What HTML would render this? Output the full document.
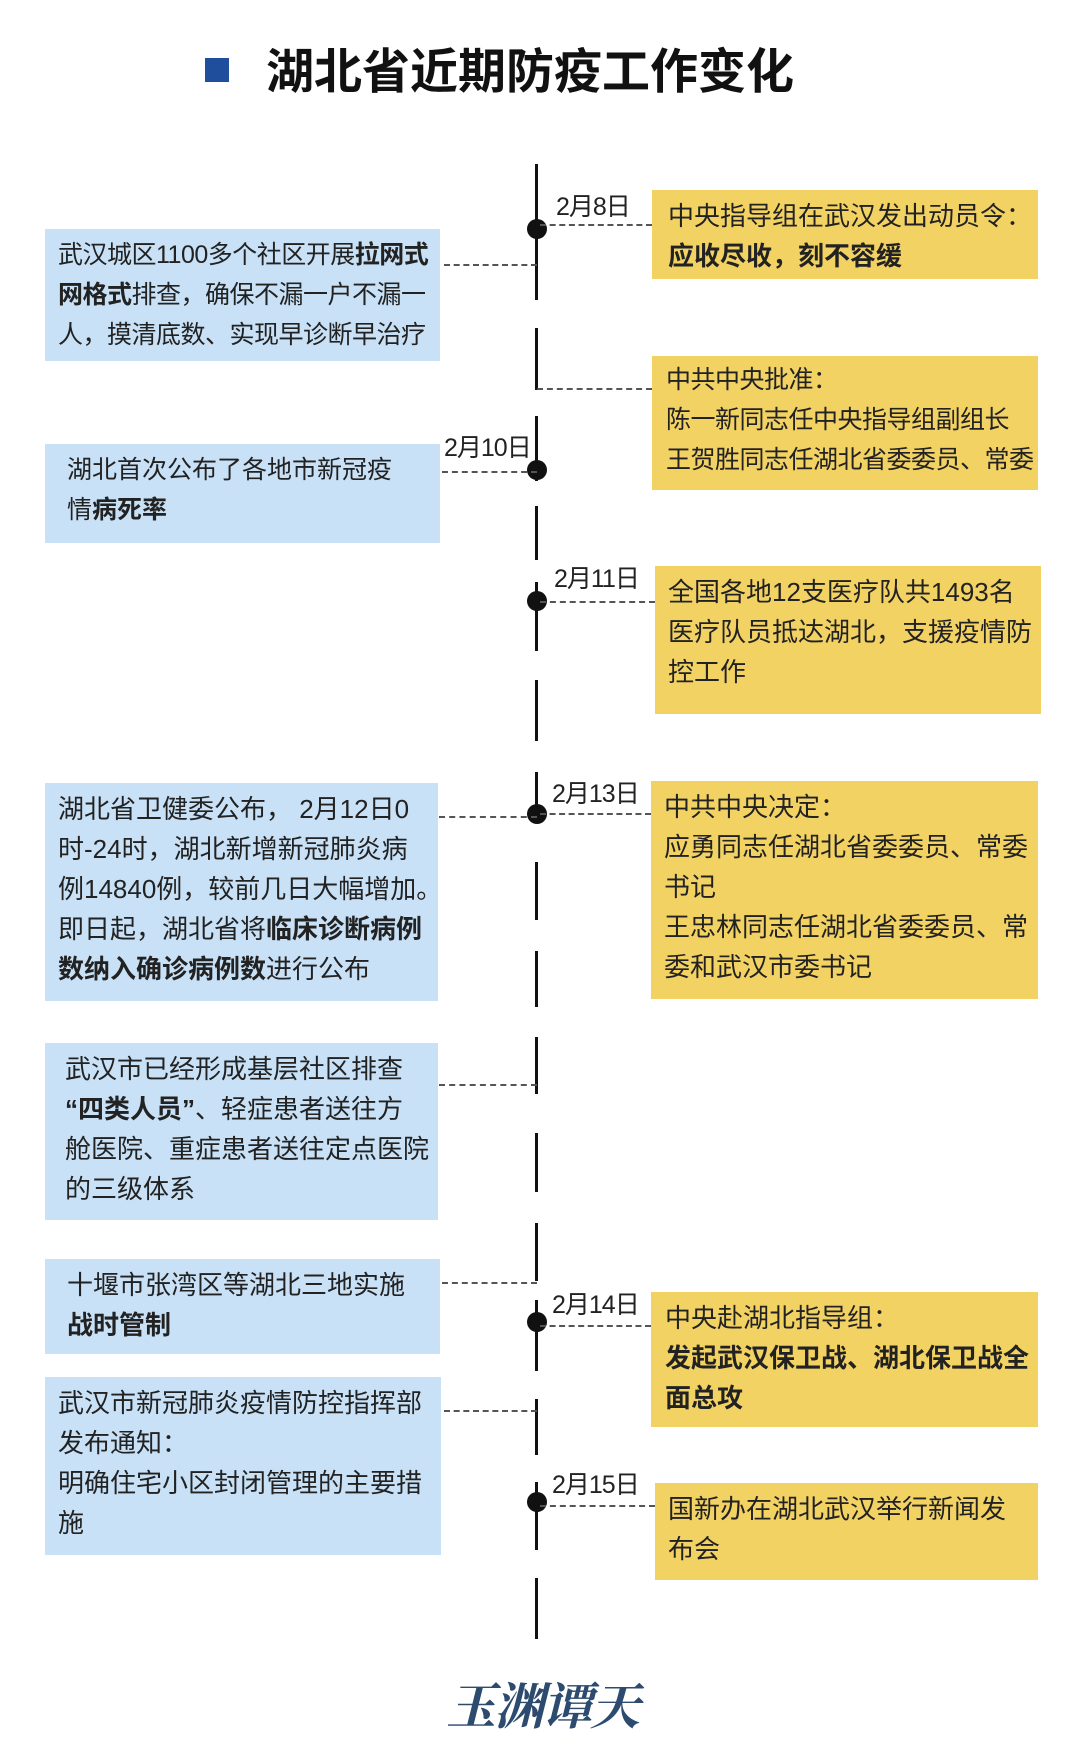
<!DOCTYPE html>
<html><head><meta charset="utf-8"><style>
*{margin:0;padding:0;box-sizing:border-box}
body{width:1080px;height:1754px;background:#fff;position:relative;overflow:hidden;font-family:"Liberation Sans","Noto Sans CJK SC",sans-serif;color:#222}
.b{position:absolute;background:#c8e1f6;font-size:26px;line-height:40px;padding-top:6px;white-space:nowrap;overflow:hidden}
.y{position:absolute;background:#f3d264;font-size:26px;line-height:40px;padding-top:6px;white-space:nowrap;overflow:hidden}
strong{font-weight:bold}
.seg{position:absolute;left:535px;width:3px;background:#111}
.dot{position:absolute;left:527px;width:20px;height:20px;border-radius:50%;background:#111}
.dh{position:absolute;height:0;border-top:2px dashed #555}
.d{position:absolute;font-size:25px;line-height:28px;color:#222;letter-spacing:-1px}
</style></head><body>
<div style="position:absolute;left:205px;top:58px;width:24px;height:24px;background:#1f4e9c"></div>
<div style="position:absolute;left:266px;top:40px;font-size:48px;line-height:66px;font-weight:bold;color:#111">湖北省近期防疫工作变化</div>

<div class="seg" style="top:164px;height:136px"></div>
<div class="seg" style="top:328px;height:62px"></div>
<div class="seg" style="top:416px;height:65px"></div>
<div class="seg" style="top:506px;height:54px"></div>
<div class="seg" style="top:582px;height:69px"></div>
<div class="seg" style="top:680px;height:61px"></div>
<div class="seg" style="top:772px;height:51px"></div>
<div class="seg" style="top:862px;height:58px"></div>
<div class="seg" style="top:951px;height:56px"></div>
<div class="seg" style="top:1037px;height:57px"></div>
<div class="seg" style="top:1133px;height:59px"></div>
<div class="seg" style="top:1223px;height:58px"></div>
<div class="seg" style="top:1300px;height:71px"></div>
<div class="seg" style="top:1399px;height:56px"></div>
<div class="seg" style="top:1482px;height:68px"></div>
<div class="seg" style="top:1578px;height:61px"></div>

<div class="dot" style="top:219px"></div>
<div class="dot" style="top:460px"></div>
<div class="dot" style="top:591px"></div>
<div class="dot" style="top:804px"></div>
<div class="dot" style="top:1312px"></div>
<div class="dot" style="top:1492px"></div>

<div class="dh" style="left:540px;width:112px;top:224px"></div>
<div class="dh" style="left:537px;width:115px;top:388px"></div>
<div class="dh" style="left:540px;width:115px;top:601px"></div>
<div class="dh" style="left:540px;width:111px;top:813px"></div>
<div class="dh" style="left:540px;width:111px;top:1325px"></div>
<div class="dh" style="left:540px;width:115px;top:1505px"></div>
<div class="dh" style="left:444px;width:93px;top:264px"></div>
<div class="dh" style="left:442px;width:95px;top:471px"></div>
<div class="dh" style="left:439px;width:98px;top:816px"></div>
<div class="dh" style="left:439px;width:98px;top:1084px"></div>
<div class="dh" style="left:442px;width:95px;top:1282px"></div>
<div class="dh" style="left:444px;width:93px;top:1410px"></div>

<div class="d" style="left:556px;top:193px">2月8日</div>
<div class="d" style="left:444px;top:434px">2月10日</div>
<div class="d" style="left:554px;top:565px">2月11日</div>
<div class="d" style="left:552px;top:780px">2月13日</div>
<div class="d" style="left:552px;top:1291px">2月14日</div>
<div class="d" style="left:552px;top:1471px">2月15日</div>

<div class="b" style="left:45px;top:229px;width:395px;height:132px;padding-left:13px;font-size:25px;letter-spacing:-0.5px">武汉城区1100多个社区开展<strong>拉网式</strong><br><strong>网格式</strong>排查，确保不漏一户不漏一<br>人，摸清底数、实现早诊断早治疗</div>
<div class="b" style="left:45px;top:444px;width:395px;height:99px;padding-left:22px;font-size:25px">湖北首次公布了各地市新冠疫<br>情<strong>病死率</strong></div>
<div class="b" style="left:45px;top:783px;width:393px;height:218px;padding-left:13px;font-size:26px">湖北省卫健委公布， 2月12日0<br>时-24时，湖北新增新冠肺炎病<br>例14840例，较前几日大幅增加。<br>即日起，湖北省将<strong>临床诊断病例</strong><br><strong>数纳入确诊病例数</strong>进行公布</div>
<div class="b" style="left:45px;top:1043px;width:393px;height:177px;padding-left:20px">武汉市已经形成基层社区排查<br><strong>“四类人员”</strong>、轻症患者送往方<br>舱医院、重症患者送往定点医院<br>的三级体系</div>
<div class="b" style="left:45px;top:1259px;width:395px;height:95px;padding-left:22px">十堰市张湾区等湖北三地实施<br><strong>战时管制</strong></div>
<div class="b" style="left:45px;top:1377px;width:396px;height:178px;padding-left:13px">武汉市新冠肺炎疫情防控指挥部<br>发布通知：<br>明确住宅小区封闭管理的主要措<br>施</div>

<div class="y" style="left:652px;top:190px;width:386px;height:89px;padding-left:16px">中央指导组在武汉发出动员令：<br><strong>应收尽收，刻不容缓</strong></div>
<div class="y" style="left:652px;top:356px;width:386px;height:134px;padding-left:14px;padding-top:4px;font-size:25px;letter-spacing:-0.5px">中共中央批准：<br>陈一新同志任中央指导组副组长<br>王贺胜同志任湖北省委委员、常委</div>
<div class="y" style="left:655px;top:566px;width:386px;height:148px;padding-left:13px">全国各地12支医疗队共1493名<br>医疗队员抵达湖北，支援疫情防<br>控工作</div>
<div class="y" style="left:651px;top:781px;width:387px;height:218px;padding-left:13px">中共中央决定：<br>应勇同志任湖北省委委员、常委<br>书记<br>王忠林同志任湖北省委委员、常<br>委和武汉市委书记</div>
<div class="y" style="left:651px;top:1292px;width:387px;height:135px;padding-left:14px">中央赴湖北指导组：<br><strong>发起武汉保卫战、湖北保卫战全<br>面总攻</strong></div>
<div class="y" style="left:655px;top:1483px;width:383px;height:97px;padding-left:13px">国新办在湖北武汉举行新闻发<br>布会</div>

<div style="position:absolute;left:446px;top:1668px;font-family:'Noto Serif CJK SC',serif;font-size:50px;line-height:70px;font-weight:bold;font-style:italic;color:#2c4b6e;letter-spacing:-2px">玉渊谭天</div>
</body></html>
